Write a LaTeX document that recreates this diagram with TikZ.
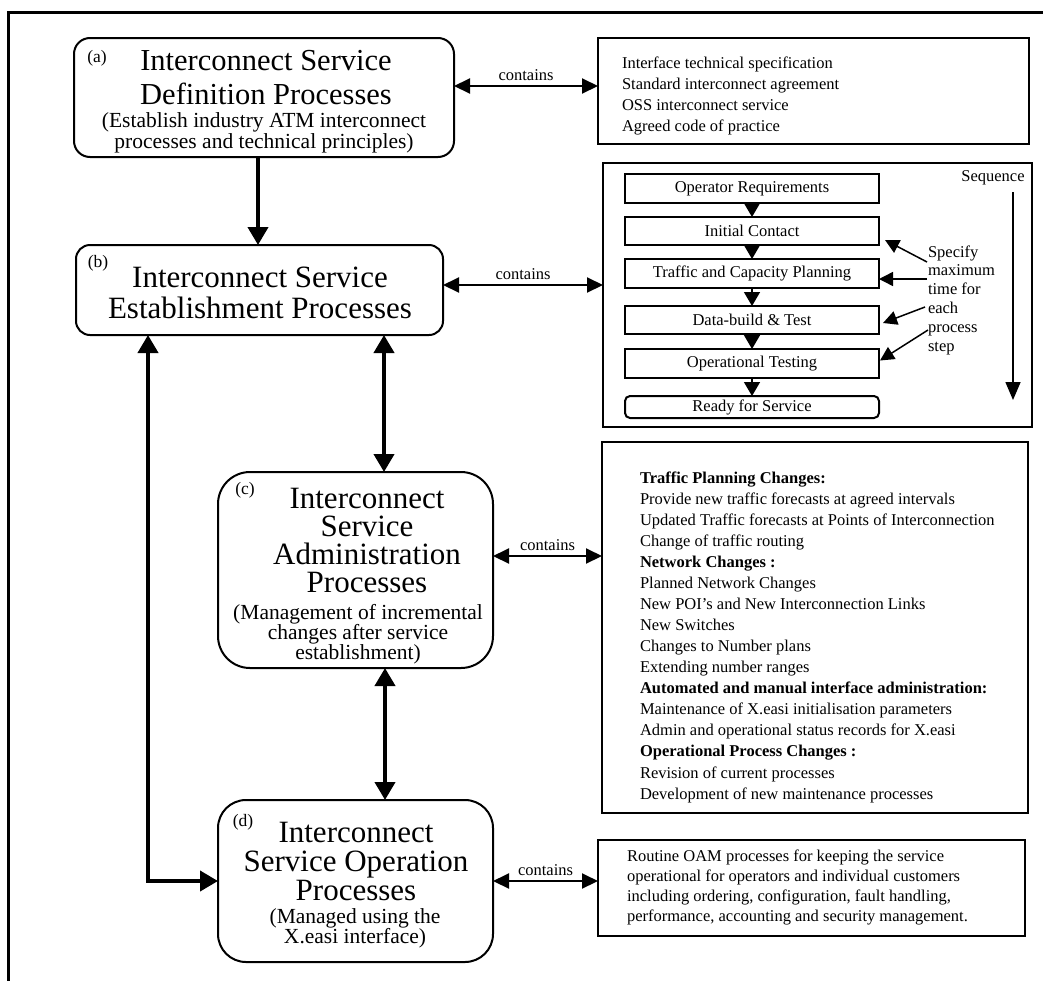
\documentclass[tikz,border=0pt]{standalone}
\usepackage{fontspec}
\setmainfont{Liberation Serif}
\usetikzlibrary{arrows.meta}

\newcommand\setfs[2]{\fontsize{#1}{#2}\selectfont}

\begin{document}
\begin{tikzpicture}[x=1pt,y=-1pt,
  every node/.style={inner sep=0pt, outer sep=0pt},
  mainbox/.style={draw, line width=2pt, rounded corners=#1},
  listbox/.style={draw, line width=2pt},
  stepbox/.style={draw, line width=2pt, minimum width=254pt, font=\setfs{16.5}{19}},
  small/.style={font=\setfs{16.5}{19}},
  tag/.style={font=\setfs{17.5}{20}},
  title/.style={align=center},
  link/.style={line width=4pt, -{Triangle[length=18pt,width=20pt]}},
  biglink/.style={line width=4pt, {Triangle[length=18pt,width=20pt]}-{Triangle[length=18pt,width=20pt]}},
  contains/.style={line width=2pt, {Triangle[length=16pt,width=15pt]}-{Triangle[length=16pt,width=15pt]}},
  flow/.style={line width=1.5pt, -{Triangle[length=14pt,width=16pt]}},
  hint/.style={line width=1.5pt, -{Triangle[length=14pt,width=14pt]}},
]
\useasboundingbox (0,0) rectangle (1043,980);

% outer frame (open at the bottom and right)
\draw[line width=3pt] (8.5,1000) -- (8.5,12) -- (1060,12);

% ---------- main process boxes ----------
\node[mainbox=16pt, minimum width=380pt, minimum height=119pt] (a) at (264,97.5) {};
\node[mainbox=14pt, minimum width=367pt, minimum height=90pt] (b) at (259.5,290) {};
\node[mainbox=32pt, minimum width=275pt, minimum height=196pt] (c) at (355.5,570) {};
\node[mainbox=28pt, minimum width=275pt, minimum height=162pt] (d) at (355.5,881) {};

% box (a)
\node[tag] (atag) at (97,58) {(a)};
\node[title, font=\setfs{30.5}{34}] (atitle) at (266,78) {Interconnect Service\\Definition Processes};
\node[title, font=\setfs{21.5}{21}] (asub) at (264,133) {(Establish industry ATM interconnect\\processes and technical principles)};

% box (b)
\node[tag] (btag) at (98,263) {(b)};
\node[title, font=\setfs{31}{31}] (btitle) at (260,292.5) {Interconnect Service\\Establishment Processes};

% box (c)
\node[tag] (ctag) at (245,490) {(c)};
\node[title, font=\setfs{31}{28}] (ctitle) at (367,540.5) {Interconnect\\Service\\Administration\\Processes};
\node[title, font=\setfs{21.5}{20}] (csub) at (358,634) {(Management of incremental\\changes after service\\establishment)};

% box (d)
\node[tag] (dtag) at (243,822) {(d)};
\node[title, font=\setfs{31}{29}] (dtitle) at (356,861) {Interconnect\\Service Operation\\Processes};
\node[title, font=\setfs{21.5}{20}] (dsub) at (355,928) {(Managed using the\\X.easi interface)};

% ---------- content boxes ----------
\node[listbox, minimum width=431pt, minimum height=106pt] (alist) at (813.5,91) {};
\node[small, align=left, anchor=west, font=\setfs{16.5}{20.7}] (alisttext) at (622,96)
  {Interface technical specification\\Standard interconnect agreement\\OSS interconnect service\\Agreed code of practice};

\node[listbox, minimum width=429pt, minimum height=264pt] (seqbox) at (817.5,295) {};
\node[stepbox, minimum height=29pt] (op) at (752,188.5) {Operator Requirements};
\node[stepbox, minimum height=28pt] (init) at (752,231) {Initial Contact};
\node[stepbox, minimum height=29pt] (traffic) at (752,273.5) {Traffic and Capacity Planning};
\node[stepbox, minimum height=28pt] (data) at (752,320) {Data-build \& Test};
\node[stepbox, minimum height=29pt] (optest) at (752,363.5) {Operational Testing};
\node[stepbox, rounded corners=5pt, minimum height=22pt] (ready) at (752,407) {Ready for Service};

\draw[flow] (op.south) -- (init.north);
\draw[flow] (init.south) -- (traffic.north);
\draw[flow] (traffic.south) -- (data.north);
\draw[flow] (data.south) -- (optest.north);
\draw[flow] (optest.south) -- (ready.north);

\node[small] (seqlabel) at (993,178) {Sequence};
\coordinate (seqtop) at (1013,192);
\coordinate (seqend) at (1013,400);
\draw[line width=1.5pt, -{Triangle[length=18pt,width=15pt]}] (seqtop) -- (seqend);

\node[small, align=left, anchor=west, font=\setfs{16.5}{18.8}] (spec) at (928,300)
  {Specify\\maximum\\time for\\each\\process\\step};
\coordinate (s1) at (927,262);
\coordinate (s2) at (927,279);
\coordinate (s3) at (925,307);
\coordinate (s4) at (928,330);
\draw[hint] (s1) -- ([shift={(6,-5)}]init.south east);
\draw[hint] (s2) -- (s2 -| traffic.east);
\draw[hint] (s3) -- ([shift={(4,3)}]data.east);
\draw[hint] (s4) -- ([shift={(1,-3)}]optest.east);

\node[listbox, minimum width=426pt, minimum height=371pt] (clist) at (815,627.5) {};
\node[small, align=left, anchor=west, font=\setfs{16.5}{21.07}] (clisttext) at (640,637)
  {\textbf{Traffic Planning Changes:}\\
   Provide new traffic forecasts at agreed intervals\\
   Updated Traffic forecasts at Points of Interconnection\\
   Change of traffic routing\\
   \textbf{Network Changes :}\\
   Planned Network Changes\\
   New POI’s and New Interconnection Links\\
   New Switches\\
   Changes to Number plans\\
   Extending number ranges\\
   \textbf{Automated and manual interface administration:}\\
   Maintenance of X.easi initialisation parameters\\
   Admin and operational status records for X.easi\\
   \textbf{Operational Process Changes :}\\
   Revision of current processes\\
   Development of new maintenance processes};

\node[listbox, minimum width=427pt, minimum height=96pt] (dlist) at (811.5,888) {};
\node[small, align=left, anchor=west, font=\setfs{16.5}{19.7}] (dlisttext) at (627,887.5)
  {Routine OAM processes for keeping the service\\
   operational for operators and individual customers\\
   including ordering, configuration, fault handling,\\
   performance, accounting and security management.};

% ---------- connectors between the process boxes ----------
\coordinate (abx) at (258,0);
\coordinate (bcx) at (384,0);
\coordinate (cdx) at (385,0);
\coordinate (elb) at (148,0);
\draw[link] (a.south -| abx) -- (b.north -| abx);
\draw[biglink] (b.south -| bcx) -- (c.north -| bcx);
\draw[biglink] (c.south -| cdx) -- (d.north -| cdx);
\draw[biglink] (b.south -| elb) |- (d.west);

% ---------- "contains" links ----------
\coordinate (ya) at (0,86);
\coordinate (yb) at (0,285);
\coordinate (yc) at (0,556);
\draw[contains] (a.east |- ya) -- node[small, midway, above=5pt] (ca) {contains} (alist.west |- ya);
\draw[contains] (b.east |- yb) -- node[small, midway, above=5pt] (cb) {contains} (seqbox.west |- yb);
\draw[contains] (c.east |- yc) -- node[small, midway, above=5pt] (cc) {contains} (clist.west |- yc);
\draw[contains] (d.east) -- node[small, midway, above=5pt] (cd) {contains} (dlist.west |- d.east);
\end{tikzpicture}
\end{document}
